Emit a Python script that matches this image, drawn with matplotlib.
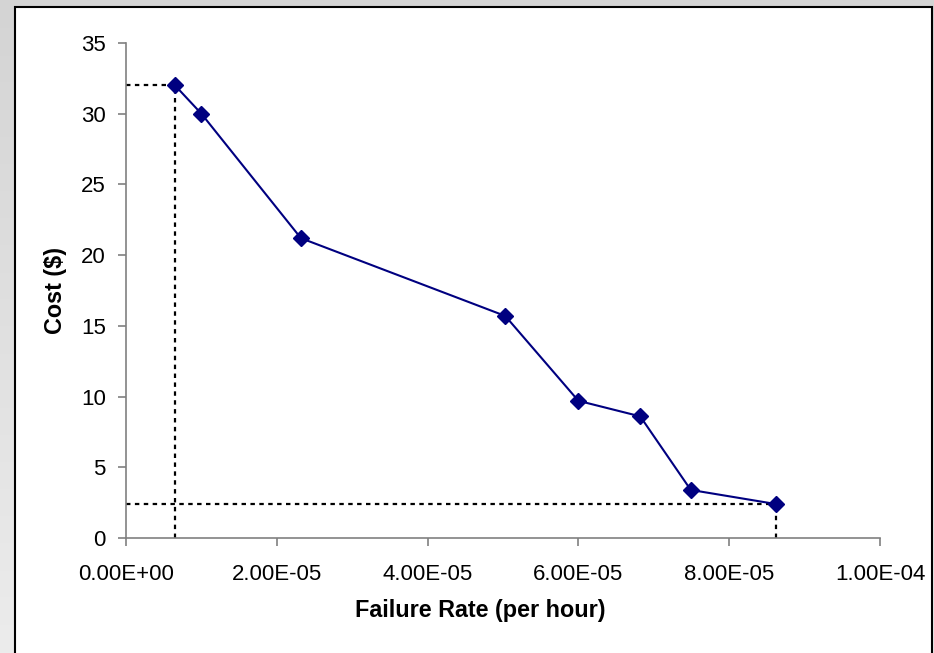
import matplotlib
matplotlib.use("Agg")
import matplotlib.pyplot as plt
from matplotlib.patches import Rectangle
import numpy as np

failure_rate = [6.5e-6, 1.0e-5, 2.32e-5, 5.03e-5, 6.0e-5, 6.82e-5, 7.49e-5, 8.62e-5]
cost = [32.0, 30.0, 21.2, 15.7, 9.7, 8.6, 3.4, 2.4]
x_ticks = [0, 2e-5, 4e-5, 6e-5, 8e-5, 1e-4]
x_tick_labels = ["0.00E+00", "2.00E-05", "4.00E-05", "6.00E-05", "8.00E-05", "1.00E-04"]
y_ticks = [0, 5, 10, 15, 20, 25, 30, 35]

plt.rcParams['font.family'] = ['Liberation Sans', 'DejaVu Sans']

fig = plt.figure(figsize=(9.34, 6.53), dpi=100)
fig.patch.set_facecolor('#dedede')
# gradient background
bg = fig.add_axes([0, 0, 1, 1], zorder=-10)
grad = np.linspace(0, 1, 256).reshape(-1, 1)
bg.imshow(grad, aspect='auto', cmap=matplotlib.colors.LinearSegmentedColormap.from_list('g', ['#d4d4d4', '#ececec']),
          extent=[0, 1, 0, 1])
bg.axis('off')
W, H = 934, 653
panel = Rectangle((14.5 / W, -0.01), (931.5 - 14.5) / W, 1 - 6.5 / H + 0.01,
                  transform=fig.transFigure, facecolor='white', edgecolor='black', linewidth=1.5, zorder=-5)
fig.patches.append(panel)

ax = fig.add_axes([126 / W, 1 - 538 / H, (880 - 126) / W, (538 - 43) / H])
ax.set_facecolor('none')

# dotted guide lines
x0, y0 = failure_rate[0], cost[0]
x1, y1 = failure_rate[-1], cost[-1]
dot = dict(color='black', linestyle=(0, (2, 2)), linewidth=1.6, zorder=2)
ax.plot([0, x0], [y0, y0], **dot)
ax.plot([x0, x0], [0, y0], **dot)
ax.plot([0, x1], [y1, y1], **dot)
ax.plot([x1, x1], [0, y1], **dot)

ax.plot(failure_rate, cost, color='#000080', linewidth=1.5, marker='D', markersize=8,
        markerfacecolor='#000080', markeredgecolor='#000080', zorder=3)

ax.set_xlim(0, 1e-4)
ax.set_ylim(0, 35)
ax.set_xticks(x_ticks)
ax.set_xticklabels(x_tick_labels)
ax.set_yticks(y_ticks)
for s in ['top', 'right']:
    ax.spines[s].set_visible(False)
for s in ['left', 'bottom']:
    ax.spines[s].set_color('#808080')
    ax.spines[s].set_linewidth(1.2)
ax.tick_params(axis='both', colors='#808080', labelcolor='black', labelsize=16, length=6, width=1.2, direction='out')
ax.tick_params(axis='x', pad=13)
ax.tick_params(axis='y', pad=8.5)
ax.set_xlabel('Failure Rate (per hour)', fontsize=16.8, fontweight='bold', labelpad=10)
ax.xaxis.label.set_x(0.4695)
ax.set_ylabel('Cost ($)', fontsize=16.8, fontweight='bold', labelpad=10)

fig.savefig('out.png', dpi=100)
